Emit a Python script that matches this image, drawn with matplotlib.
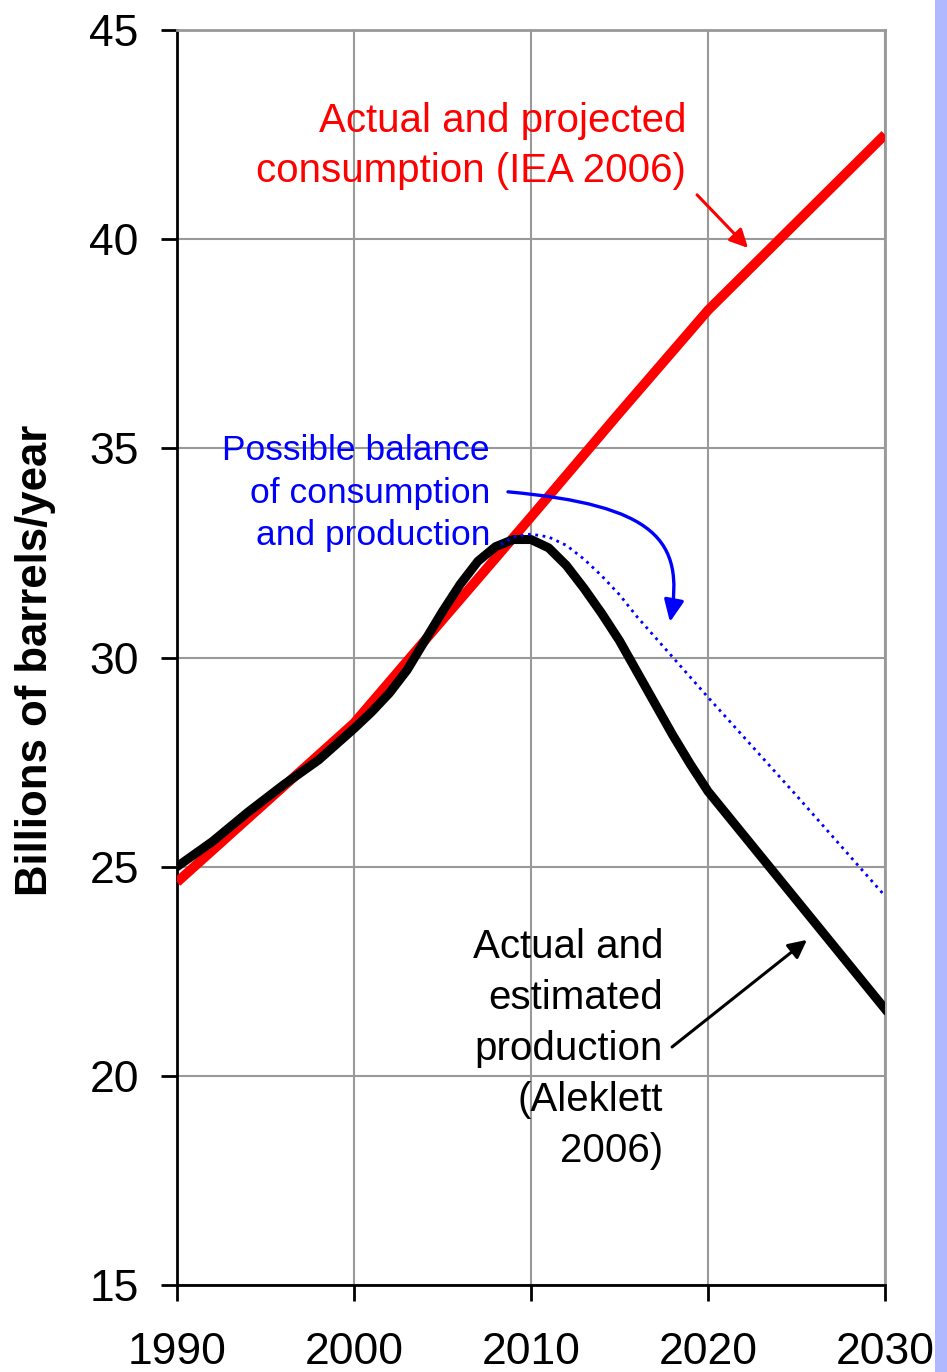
import matplotlib
matplotlib.use("Agg")
import matplotlib.pyplot as plt
from matplotlib.patches import FancyArrowPatch, Rectangle
from matplotlib.path import Path

# ---- data ----
cons_years = [1990, 2000, 2005, 2010, 2015, 2020, 2025, 2030]
cons_vals = [24.63, 28.43, 30.9, 33.36, 35.85, 38.3, 40.4, 42.5]

prod_years = [1990, 1992, 1994, 1996, 1998, 2000, 2001, 2002, 2003, 2004, 2005, 2006,
              2007, 2008, 2009, 2010, 2011, 2012, 2013, 2014, 2015, 2016, 2017,
              2018, 2019, 2020, 2025, 2030]
prod_vals = [25.0, 25.6, 26.3, 26.95, 27.55, 28.3, 28.7, 29.15, 29.7, 30.4, 31.1, 31.75,
             32.3, 32.65, 32.82, 32.82, 32.62, 32.2, 31.65, 31.05, 30.4, 29.65, 28.9,
             28.15, 27.45, 26.8, 24.2, 21.6]

bal_years = [2008.3, 2009, 2010, 2011, 2012, 2013, 2014, 2015, 2016, 2020, 2025, 2030]
bal_vals = [32.7, 32.88, 32.95, 32.88, 32.68, 32.35, 31.95, 31.5, 30.97, 29.05, 26.7, 24.3]

x_ticks = [1990, 2000, 2010, 2020, 2030]
y_ticks = [15, 20, 25, 30, 35, 40, 45]

FONT = "Liberation Sans"
plt.rcParams['font.family'] = [FONT, 'DejaVu Sans']

W, H = 947, 1372
fig = plt.figure(figsize=(W / 100, H / 100), dpi=100)
ax = fig.add_axes([177 / W, 1 - 1285 / H, (885 - 177) / W, (1285 - 30) / H])

# right-edge decorative bar
fig.patches.append(Rectangle((935 / W, 0), 12 / W, 1, transform=fig.transFigure,
                             facecolor='#b0b8ff', edgecolor='none', zorder=0))

grid_c = '#999999'
ax.set_xlim(1990, 2030)
ax.set_ylim(15, 45)
ax.set_xticks(x_ticks)
ax.set_yticks(y_ticks)
ax.grid(True, color=grid_c, lw=1.5)
ax.set_axisbelow(True)
for s in ['left', 'bottom']:
    ax.spines[s].set_color('black')
    ax.spines[s].set_linewidth(2)
for s in ['top', 'right']:
    ax.spines[s].set_color(grid_c)
    ax.spines[s].set_linewidth(2)
ax.tick_params(axis='both', direction='out', length=11.5, width=2, color='black',
               labelsize=32)
ax.tick_params(axis='x', pad=22)
ax.tick_params(axis='y', pad=16)

ax.plot(cons_years, cons_vals, color='#ff0000', lw=7, solid_capstyle='butt', zorder=3)
ax.plot(prod_years, prod_vals, color='black', lw=6.5, solid_joinstyle='round', zorder=4)
ax.plot(bal_years, bal_vals, color='#0000ff', lw=2.0, linestyle=':', zorder=5)

ax.set_ylabel("Billions of barrels/year", fontsize=31.5, fontweight='bold')
ax.yaxis.set_label_coords((56 - 177) / 708, 0.498)

# annotations
ax.text(2018.76, 41.37, "Actual and projected\nconsumption (IEA 2006)", color='#ff0000',
        fontsize=29, ha='right', va='baseline', linespacing=1.38)
ax.text(2007.68, 32.69, "Possible balance\nof consumption\nand production", color='#0000ff',
        fontsize=25.5, ha='right', va='baseline', linespacing=1.36)
ax.text(2017.46, 17.94, "Actual and\nestimated\nproduction\n(Aleklett\n2006)", color='black',
        fontsize=29, ha='right', va='baseline', linespacing=1.43)

ax.annotate('', xy=(2022.26, 39.79), xytext=(2019.38, 41.06),
            arrowprops=dict(arrowstyle='-|>,head_length=0.5,head_width=0.25', lw=2.2,
                            color='#ff0000', mutation_scale=22, shrinkA=0, shrinkB=0))
ax.annotate('', xy=(2025.59, 23.25), xytext=(2017.97, 20.69),
            arrowprops=dict(arrowstyle='-|>,head_length=0.5,head_width=0.25', lw=2.2,
                            color='black', mutation_scale=22, shrinkA=0, shrinkB=0))

bpath = Path([(2008.70, 33.96), (2017.01, 33.64), (2018.70, 32.81), (2017.85, 30.85)],
             [Path.MOVETO, Path.CURVE4, Path.CURVE4, Path.CURVE4])
ax.add_patch(FancyArrowPatch(path=bpath, arrowstyle='-|>,head_length=0.55,head_width=0.25',
                             mutation_scale=24, lw=2.4, color='#0000ff', zorder=6))

fig.savefig("out.png", dpi=100)
